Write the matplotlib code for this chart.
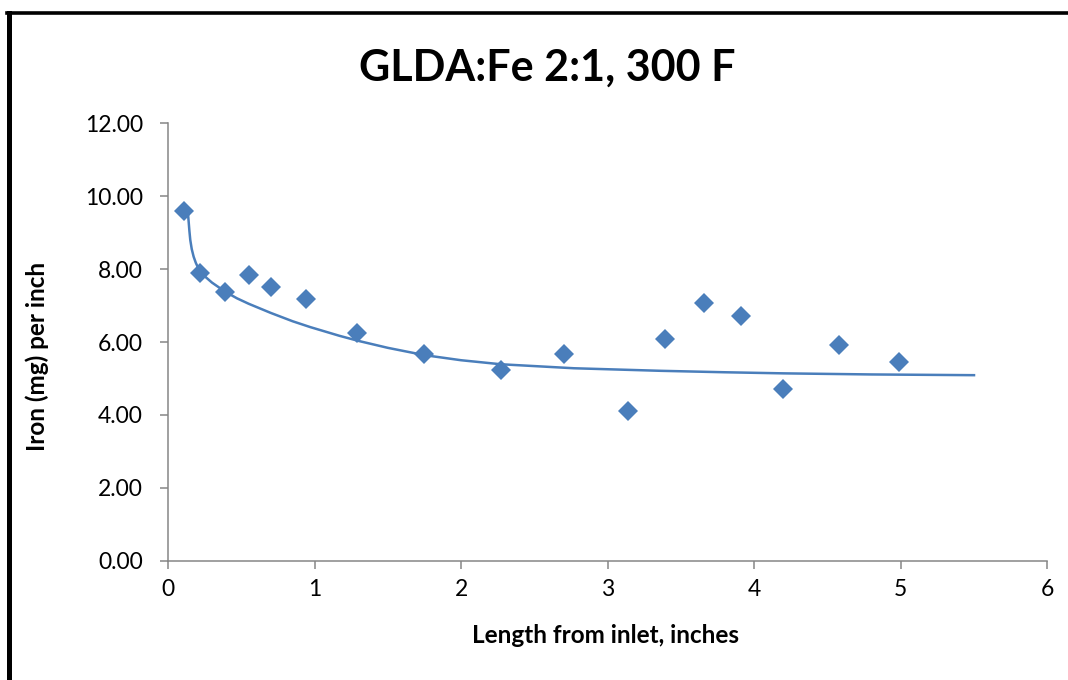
import matplotlib
matplotlib.use("Agg")
import matplotlib.pyplot as plt
from matplotlib.lines import Line2D

# measured iron per inch along the sample
length_in = [0.11, 0.22, 0.39, 0.55, 0.70, 0.94, 1.29, 1.75, 2.27, 2.70,
             3.14, 3.39, 3.66, 3.91, 4.20, 4.58, 4.99]
iron_mg = [9.60, 7.88, 7.36, 7.83, 7.50, 7.17, 6.26, 5.66, 5.24, 5.68,
           4.12, 6.07, 7.06, 6.70, 4.72, 5.93, 5.44]

# fitted trend curve
trend_x = [0.136, 0.140, 0.146, 0.152, 0.162, 0.175, 0.19, 0.205, 0.22, 0.26,
           0.30, 0.39, 0.47, 0.55, 0.70, 0.85, 0.97, 1.17, 1.30, 1.50, 1.75,
           2.00, 2.27, 2.77, 3.36, 3.80, 4.20, 4.80, 5.50]
trend_y = [9.55, 9.35, 9.05, 8.80, 8.55, 8.34, 8.17, 8.04, 7.93, 7.77,
           7.63, 7.38, 7.20, 7.05, 6.80, 6.57, 6.41, 6.17, 6.03, 5.84, 5.64,
           5.50, 5.39, 5.28, 5.21, 5.17, 5.14, 5.11, 5.09]

x_ticks = [0, 1, 2, 3, 4, 5, 6]
y_ticks = [0, 2, 4, 6, 8, 10, 12]

blue = "#4A7EBB"
axis_grey = "#868686"

plt.rcParams["font.family"] = ["Lato", "DejaVu Sans"]

fig = plt.figure(figsize=(10.68, 6.80), dpi=100)
ax = fig.add_axes([0.1573, 0.1754, 0.8233, 0.6433])

ax.plot(trend_x, trend_y, color=blue, lw=1.8, zorder=2)
ax.plot(length_in, iron_mg, linestyle="none", marker="D", markersize=10.5,
        color=blue, markeredgewidth=0, zorder=3)

ax.set_xlim(0, 6)
ax.set_ylim(0, 12)
ax.set_xticks(x_ticks)
ax.set_yticks(y_ticks)
ax.set_xticklabels([str(t) for t in x_ticks])
ax.set_yticklabels([f"{t:.2f}" for t in y_ticks])

for side in ["top", "right"]:
    ax.spines[side].set_visible(False)
for side in ["left", "bottom"]:
    ax.spines[side].set_color(axis_grey)
    ax.spines[side].set_linewidth(1.1)
ax.tick_params(axis="both", direction="out", length=6, width=1.1,
               color=axis_grey, labelsize=16.5, labelcolor="black")
ax.tick_params(axis="x", pad=7)
ax.tick_params(axis="y", pad=12)

ax.set_xlabel("Length from inlet, inches", fontsize=17.5, fontweight="bold")
ax.set_ylabel("Iron (mg) per inch", fontsize=17.5, fontweight="bold")
ax.xaxis.set_label_coords(0.497, -0.172)
ax.xaxis.label.set_va("center")
ax.yaxis.set_label_coords(-0.149, 0.468)
ax.yaxis.label.set_va("center")

fig.text(0.5126, 0.9, "GLDA:Fe 2:1, 300 F", fontsize=31, fontweight="bold",
         ha="center", va="center")

# black frame around the chart area
fig.add_artist(Line2D([8.5 / 1068, 8.5 / 1068], [0, 1 - 12.5 / 680],
                      transform=fig.transFigure, color="black", lw=3.6))
fig.add_artist(Line2D([6.7 / 1068, 1], [1 - 12.5 / 680, 1 - 12.5 / 680],
                      transform=fig.transFigure, color="black", lw=2.6))

fig.savefig("out.png", dpi=100)
